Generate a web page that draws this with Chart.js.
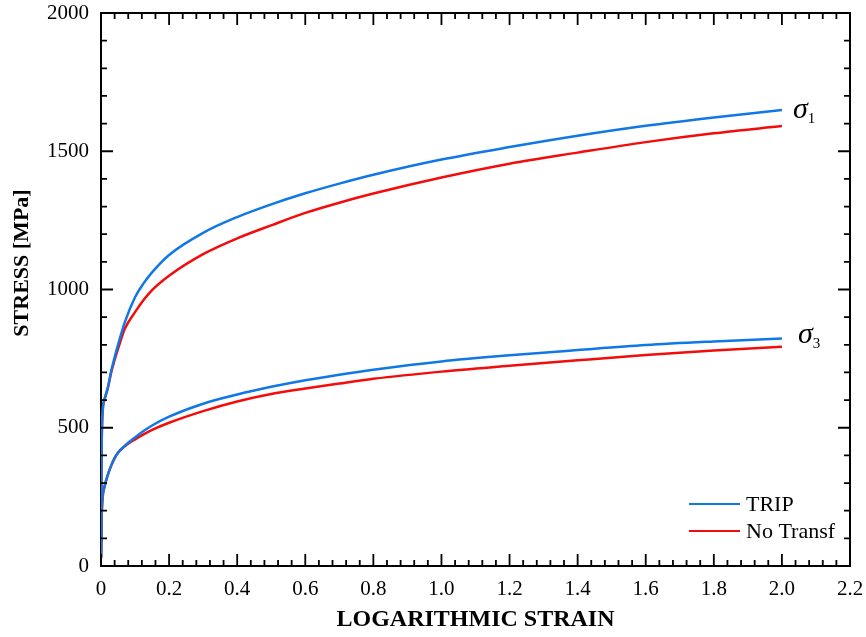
<!DOCTYPE html>
<html lang="en">
<head>
  <meta charset="UTF-8">
  <title>Stress vs logarithmic strain</title>
  <script src="https://cdn.jsdelivr.net/npm/chart.js"></script>
  <style>
    html, body { margin: 0; padding: 0; background: #fff; }
    #wrap { width: 866px; height: 637px; }
  </style>
</head>
<body>
  <div id="wrap"><canvas id="grafico" width="866" height="637"></canvas></div>

  <script>
    // data
    const strain = [0, 0.002, 0.005, 0.01, 0.02, 0.03, 0.04, 0.05, 0.07, 0.1, 0.125, 0.15, 0.2, 0.3, 0.4, 0.5, 0.6, 0.7, 0.8, 1.0, 1.2, 1.4, 1.6, 1.8, 2.0];
    const tripSigma1 = [30, 430, 560, 600, 645, 705, 755, 800, 882, 972, 1022, 1062, 1125, 1205, 1262, 1308, 1348, 1383, 1415, 1470, 1515, 1556, 1592, 1622, 1649];
    const noTransfSigma1 = [30, 430, 560, 600, 643, 700, 745, 785, 858, 918, 962, 998, 1050, 1128, 1185, 1232, 1277, 1314, 1347, 1405, 1455, 1495, 1533, 1565, 1591];
    const tripSigma3 = [30, 180, 250, 285, 330, 363, 390, 410, 435, 465, 488, 508, 540, 587, 620, 648, 672, 692, 710, 740, 762, 781, 799, 812, 823];
    const noTransfSigma3 = [30, 180, 250, 285, 330, 363, 390, 410, 433, 458, 476, 492, 518, 560, 595, 622, 642, 660, 677, 703, 724, 744, 763, 779, 793];

    const seriesLabels = ["TRIP", "No Transf"];
    const curveLabels = [["σ", "1"], ["σ", "3"]];
    const xTickLabels = ["0", "0.2", "0.4", "0.6", "0.8", "1.0", "1.2", "1.4", "1.6", "1.8", "2.0", "2.2"];
    const yTickLabels = ["0", "500", "1000", "1500", "2000"];
    const yTitle = "STRESS [MPa]";

    const BLUE = "#1078e6";
    const RED = "#f20c0c";
    const SERIF = "'Liberation Serif', 'Times New Roman', serif";

    const pts = ys => strain.map((x, i) => ({ x, y: ys[i] }));

    function lineSet(label, ys, color) {
      return {
        label, data: pts(ys), borderColor: color, backgroundColor: color,
        borderWidth: 2.5, pointRadius: 0, showLine: true,
        cubicInterpolationMode: "monotone", fill: false
      };
    }

    // inward ticks on all four sides + top/right frame
    const frameTicks = {
      id: "frameTicks",
      afterDraw(chart) {
        const { ctx, chartArea: a, scales: { x, y } } = chart;
        ctx.save();
        ctx.strokeStyle = "#000";
        ctx.lineWidth = 2;
        ctx.beginPath();
        ctx.moveTo(a.left, a.top); ctx.lineTo(a.right, a.top); ctx.lineTo(a.right, a.bottom);
        ctx.stroke();
        ctx.lineWidth = 1.8;
        ctx.beginPath();
        for (let i = 0; i <= 55; i++) {
          const px = x.getPixelForValue(i * 0.04);
          const len = i % 5 === 0 ? 12 : 6;
          ctx.moveTo(px, a.bottom); ctx.lineTo(px, a.bottom - len);
          ctx.moveTo(px, a.top); ctx.lineTo(px, a.top + len);
        }
        for (let i = 0; i <= 20; i++) {
          const py = y.getPixelForValue(i * 100);
          const len = i % 5 === 0 ? 12 : 6;
          ctx.moveTo(a.left, py); ctx.lineTo(a.left + len, py);
          ctx.moveTo(a.right, py); ctx.lineTo(a.right - len, py);
        }
        ctx.stroke();

        // y title sits a bit above the middle of the axis, as in the original
        ctx.translate(22, 263);
        ctx.rotate(-Math.PI / 2);
        ctx.font = "bold 22px " + SERIF;
        ctx.fillStyle = "#000";
        ctx.textAlign = "center";
        ctx.textBaseline = "middle";
        ctx.fillText(yTitle, 0, 0);
        ctx.restore();
      }
    };

    // legend in the lower right corner of the plot
    const innerLegend = {
      id: "innerLegend",
      afterDraw(chart) {
        const { ctx, chartArea: a } = chart;
        ctx.save();
        ctx.font = "22px " + SERIF;
        ctx.textBaseline = "middle";
        ctx.fillStyle = "#000";
        [0, 1].forEach((d, i) => {
          const ds = chart.data.datasets[d];
          const yy = a.bottom - 62 + i * 27;
          ctx.strokeStyle = ds.borderColor;
          ctx.lineWidth = 2;
          ctx.beginPath();
          ctx.moveTo(a.right - 161, yy); ctx.lineTo(a.right - 110, yy);
          ctx.stroke();
          ctx.fillText(seriesLabels[i], a.right - 104, yy + 1);
        });
        ctx.restore();
      }
    };

    // sigma labels at the end of each curve group
    const curveNames = {
      id: "curveNames",
      afterDraw(chart) {
        const { ctx, scales: { x, y } } = chart;
        const last = strain.length - 1;
        const spots = [
          { v: tripSigma1[last], dx: 11, dy: 8 },
          { v: tripSigma3[last], dx: 16, dy: 5 }
        ];
        ctx.save();
        ctx.fillStyle = "#000";
        ctx.textBaseline = "alphabetic";
        spots.forEach((s, i) => {
          const px = x.getPixelForValue(strain[last]) + s.dx;
          const py = y.getPixelForValue(s.v) + s.dy;
          ctx.font = "italic 30px " + SERIF;
          ctx.fillText(curveLabels[i][0], px, py);
          const w = ctx.measureText(curveLabels[i][0]).width;
          ctx.font = "15px " + SERIF;
          ctx.fillText(curveLabels[i][1], px + w, py + 5);
        });
        ctx.restore();
      }
    };

    new Chart(document.getElementById("grafico").getContext("2d"), {
      type: "scatter",
      data: {
        datasets: [
          lineSet("TRIP σ1", tripSigma1, BLUE),
          lineSet("No Transf σ1", noTransfSigma1, RED),
          lineSet("TRIP σ3", tripSigma3, BLUE),
          lineSet("No Transf σ3", noTransfSigma3, RED)
        ]
      },
      options: {
        responsive: false,
        animation: false,
        layout: { padding: { top: 13, right: 16, left: 0, bottom: 0 } },
        plugins: { legend: { display: false }, tooltip: { enabled: false } },
        scales: {
          x: {
            type: "linear", min: 0, max: 2.2,
            afterFit(s) { s.height = 71; s.paddingLeft = 0; s.paddingRight = 0; },
            border: { display: true, color: "#000", width: 2 },
            grid: { display: false, drawTicks: false },
            ticks: {
              stepSize: 0.2, padding: 11, color: "#000",
              font: { family: SERIF, size: 21 },
              maxRotation: 0, autoSkip: false,
              callback: (v, i) => xTickLabels[i]
            },
            title: {
              display: true, text: "LOGARITHMIC STRAIN", color: "#000",
              font: { family: SERIF, size: 24, weight: "bold" },
              padding: { top: 0, bottom: 3 }
            }
          },
          y: {
            type: "linear", min: 0, max: 2000,
            afterFit(s) { s.width = 101; s.paddingTop = 0; s.paddingBottom = 0; },
            border: { display: true, color: "#000", width: 2 },
            grid: { display: false, drawTicks: false },
            ticks: {
              stepSize: 500, padding: 12, color: "#000",
              font: { family: SERIF, size: 21 },
              callback: (v, i) => yTickLabels[i]
            },
            title: { display: false }
          }
        }
      },
      plugins: [frameTicks, innerLegend, curveNames]
    });
  </script>
</body>
</html>
